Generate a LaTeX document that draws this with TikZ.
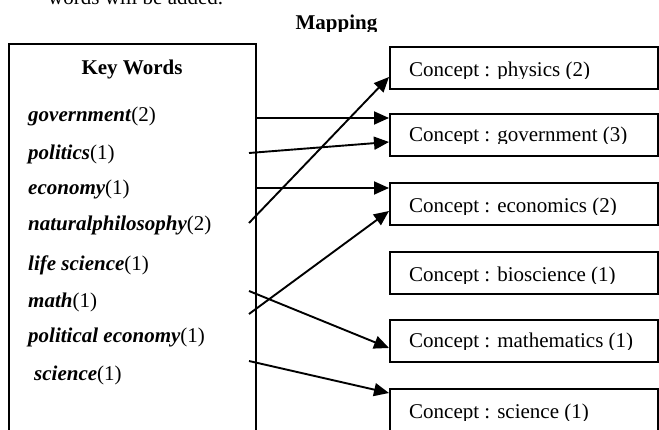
\documentclass[tikz,border=0pt]{standalone}
\usepackage{fontspec}
\setmainfont{Liberation Serif}
\usetikzlibrary{arrows.meta}
\newcommand\kwfont{\fontsize{21}{25}\selectfont}
\begin{document}
\begin{tikzpicture}[x=1pt,y=-1pt,
  box/.style={draw,line width=2pt,rectangle,inner sep=0pt,anchor=north west},
  concept/.style={box,minimum width=268pt,minimum height=42pt},
  kwtext/.style={anchor=base west,inner sep=0pt,font=\kwfont},
  ctext/.style={anchor=base west,inner sep=0pt,font=\kwfont},
  arr/.style={line width=1.9pt,-{Triangle[length=15pt,width=13pt]}},
]
\useasboundingbox (0,0) rectangle (659,430);
\clip (0,0) rectangle (659,430);

% partial line of text above
\node[kwtext] (top) at (48,5) {words will be added.};

% title
\begin{scope}
\clip (250,0) rectangle (420,32);
\node[anchor=base,inner sep=0pt,font=\kwfont\bfseries] (map) at (336.5,30) {Mapping};
\end{scope}

% key words box
\node[box,minimum width=247pt,minimum height=420pt] (kw) at (8,43) {};
\node[anchor=base,inner sep=0pt,font=\kwfont\bfseries] (kwt) at (132,75) {Key Words};
\node[kwtext] (k1) at (28,122) {\textbf{\textit{government}}(2)};
\node[kwtext] (k2) at (28,159.5) {\textbf{\textit{politics}}(1)};
\node[kwtext] (k3) at (28,194.5) {\textbf{\textit{economy}}(1)};
\node[kwtext] (k4) at (28,231) {\textbf{\textit{naturalphilosophy}}(2)};
\node[kwtext] (k5) at (28,271) {\textbf{\textit{life science}}(1)};
\node[kwtext] (k6) at (28,307.5) {\textbf{\textit{math}}(1)};
\node[kwtext] (k7) at (28,343) {\textbf{\textit{political economy}}(1)};
\node[kwtext] (k8) at (34,381) {\textbf{\textit{science}}(1)};

% concept boxes
\node[concept] (c1) at (389,46) {};
\node[concept] (c2) at (389,113) {};
\node[concept] (c3) at (389,182) {};
\node[concept] (c4) at (389,251) {};
\node[concept] (c5) at (389,319) {};
\node[concept] (c6) at (389,388) {};

\begin{scope}\clip (389,46) rectangle (657,79);
\node[ctext] (t1) at (409,77) {Concept : physics (2)};\end{scope}
\begin{scope}\clip (389,113) rectangle (657,144);
\node[ctext] (t2) at (409,142) {Concept : government (3)};\end{scope}
\begin{scope}\clip (389,182) rectangle (657,215);
\node[ctext] (t3) at (409,213) {Concept : economics (2)};\end{scope}
\begin{scope}\clip (389,251) rectangle (657,284);
\node[ctext] (t4) at (409,282) {Concept : bioscience (1)};\end{scope}
\begin{scope}\clip (389,319) rectangle (657,350);
\node[ctext] (t5) at (409,348) {Concept : mathematics (1)};\end{scope}
\begin{scope}\clip (389,388) rectangle (657,420);
\node[ctext] (t6) at (409,418) {Concept : science (1)};\end{scope}

% arrow start points
\coordinate (s2) at (249,153);
\coordinate (s4) at (249,223);
\coordinate (s5) at (249,314);
\coordinate (s6) at (249,291);
\coordinate (s7) at (249,361);

\draw[arr] (kw.east |- 0,118) -- (c2.west |- 0,118);
\draw[arr] (s2) -- (c2.west |- 0,142);
\draw[arr] (kw.east |- 0,188) -- (c3.west |- 0,188);
\draw[arr] (s4) -- (c1.west |- 0,77);
\draw[arr] (s5) -- (c3.west |- 0,211);
\draw[arr] (s6) -- (c5.west |- 0,348);
\draw[arr] (s7) -- (c6.west |- 0,393);
\end{tikzpicture}
\end{document}
